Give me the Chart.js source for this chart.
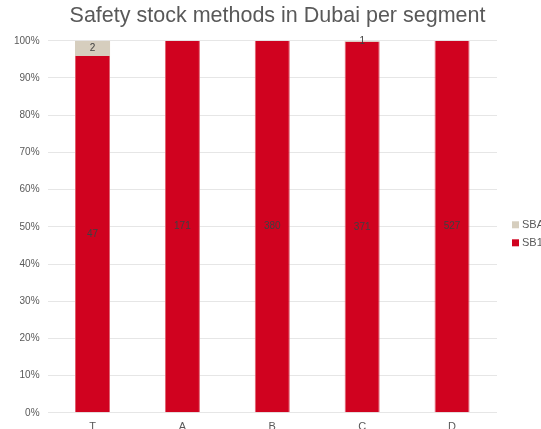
<!DOCTYPE html>
<html>
<head>
<meta charset="utf-8">
<script src="https://cdn.jsdelivr.net/npm/chart.js@4/dist/chart.umd.min.js"></script>
<style>
  html, body { margin: 0; padding: 0; background: #fff; overflow: hidden; }
  #wrap { width: 549px; height: 442px; }
</style>
</head>
<body>
<div id="wrap"><canvas id="c"></canvas></div>
<script>
Chart.defaults.font.family = "Liberation Sans, Arial, sans-serif";
Chart.defaults.color = "#595959";

const segments = ["T", "A", "B", "C", "D"];
const sb1Counts = [47, 171, 380, 371, 527];
const sbaCounts = [2, 0, 0, 1, 0];

const totals = segments.map((_, i) => sb1Counts[i] + sbaCounts[i]);
const pct = arr => arr.map((v, i) => v / totals[i] * 100);

// count labels in the middle of each segment
const countLabels = {
    id: "countLabels",
    afterDatasetsDraw(chart) {
        const ctx = chart.ctx;
        ctx.save();
        ctx.font = "10px Liberation Sans, Arial, sans-serif";
        ctx.fillStyle = "#404040";
        ctx.textAlign = "center";
        ctx.textBaseline = "middle";
        chart.data.datasets.forEach((ds, di) => {
            const meta = chart.getDatasetMeta(di);
            meta.data.forEach((bar, i) => {
                const n = ds.counts[i];
                if (!n) return;
                const y = (bar.y + bar.base) / 2;
                ctx.fillText(String(n), bar.x, y);
            });
        });
        ctx.restore();
    }
};

// small legend to the right of the plot, last series on top
const sideLegend = {
    id: "sideLegend",
    afterDraw(chart) {
        const ctx = chart.ctx;
        const a = chart.chartArea;
        const items = chart.data.datasets.slice().reverse();
        const x = a.right + 15;
        let y = (a.top + a.bottom) / 2 + 7 - (items.length - 1) * 9;
        ctx.save();
        ctx.font = "11px Liberation Sans, Arial, sans-serif";
        ctx.textBaseline = "middle";
        items.forEach(ds => {
            ctx.fillStyle = ds.backgroundColor;
            ctx.fillRect(x, y - 3.5, 7, 7);
            ctx.fillStyle = "#595959";
            ctx.fillText(ds.label, x + 10, y);
            y += 18;
        });
        ctx.restore();
    }
};

new Chart(document.getElementById("c"), {
    type: "bar",
    data: {
        labels: segments,
        datasets: [
            {
                label: "SB1",
                data: pct(sb1Counts),
                counts: sb1Counts,
                backgroundColor: "#D0021F",
                borderColor: "#E0606F",
                borderWidth: { left: 1, right: 1, top: 0, bottom: 0 },
                borderSkipped: false,
                barPercentage: 0.39,
                categoryPercentage: 1,
            },
            {
                label: "SBA",
                data: pct(sbaCounts),
                counts: sbaCounts,
                backgroundColor: "#D6CEBE",
                borderWidth: 0,
                barPercentage: 0.39,
                categoryPercentage: 1,
            },
        ],
    },
    options: {
        responsive: true,
        maintainAspectRatio: false,
        animation: false,
        layout: { padding: { left: 6, right: 0, top: 0, bottom: 0 } },
        plugins: {
            title: {
                display: true,
                text: "Safety stock methods in Dubai per segment",
                color: "#595959",
                font: { size: 21.5, weight: "normal" },
                padding: { top: 3, bottom: 12 },
            },
            legend: { display: false },
            tooltip: { enabled: false },
        },
        scales: {
            x: {
                stacked: true,
                grid: { display: false, drawTicks: false },
                border: { display: false },
                ticks: { color: "#595959", font: { size: 11 }, padding: 8 },
            },
            y: {
                stacked: true,
                min: 0,
                max: 100,
                ticks: {
                    stepSize: 10,
                    color: "#595959",
                    font: { size: 10 },
                    padding: 8,
                    callback: v => v + "%",
                },
                grid: { color: "#E6E6E6", drawTicks: false },
                border: { display: false },
            },
            // empty axis that keeps room for the legend on the right
            side: {
                position: "right",
                ticks: { display: false },
                grid: { display: false, drawTicks: false },
                border: { display: false },
                afterFit: s => { s.width = 52; },
            },
        },
    },
    plugins: [countLabels, sideLegend],
});
</script>
</body>
</html>
